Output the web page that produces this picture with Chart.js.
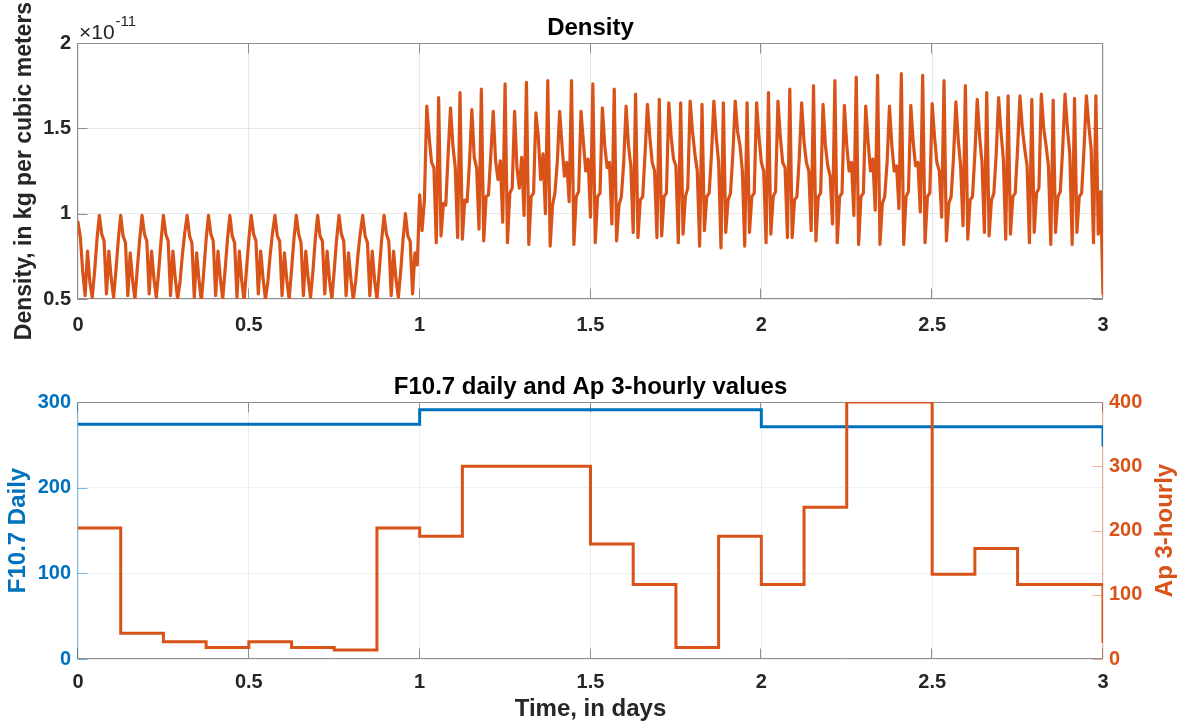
<!DOCTYPE html>
<html>
<head>
<meta charset="utf-8">
<script src="https://cdn.jsdelivr.net/npm/chart.js@4.4.1/dist/chart.umd.min.js"></script>
<style>
html,body{margin:0;padding:0;background:#fff;}
#wrap{position:relative;width:1181px;height:723px;overflow:hidden;background:#fff;}
.panel{position:absolute;left:0;width:1181px;}
canvas{display:block;}
</style>
</head>
<body>
<div id="wrap">
  <div class="panel" style="top:0;height:360px"><canvas id="densityChart" width="1181" height="360"></canvas></div>
  <div class="panel" style="top:360px;height:363px"><canvas id="driverChart" width="1181" height="363"></canvas></div>
</div>
<script>
// ---------------- DATA ----------------
// Density, in units of 1e-11 kg/m^3, sampled every 10 minutes (144 samples per day)
const DENSITY_EXPONENT = -11;
const SAMPLES_PER_DAY = 144;
const densityDay1 = [
0.95,0.86,0.66,0.52,0.78,0.60,0.51,0.66,0.85,
0.99,0.88,0.84,0.53,0.78,0.62,0.51,0.67,0.85,
0.99,0.87,0.83,0.52,0.77,0.61,0.50,0.68,0.85,
0.99,0.88,0.84,0.53,0.78,0.62,0.51,0.66,0.84,
0.99,0.88,0.84,0.52,0.78,0.62,0.50,0.60,0.76,0.89,
0.99,0.87,0.83,0.51,0.77,0.61,0.49,0.66,0.85,
0.99,0.88,0.84,0.52,0.78,0.62,0.50,0.67,0.85,
0.99,0.87,0.83,0.51,0.78,0.61,0.49,0.67,0.85,
0.99,0.88,0.84,0.53,0.78,0.62,0.50,0.60,0.76,0.89,
0.99,0.87,0.84,0.52,0.77,0.61,0.50,0.67,0.85,
0.99,0.88,0.83,0.52,0.78,0.62,0.51,0.66,0.85,
0.99,0.87,0.84,0.53,0.78,0.61,0.50,0.67,0.85,
0.99,0.88,0.84,0.52,0.77,0.62,0.50,0.60,0.76,0.89,
0.99,0.87,0.83,0.52,0.78,0.61,0.50,0.67,0.85,
0.99,0.88,0.84,0.52,0.78,0.62,0.51,0.66,0.85,
1.00,0.87,0.84,0.53,0.77,0.70
];
const densityDay2 = [
1.11,0.90,1.08,
1.63,1.45,1.30,1.27,0.83,
1.68,0.87,1.06,1.05,1.35,
1.62,1.40,1.27,0.86,
1.71,0.85,1.08,1.07,1.30,
1.61,1.33,1.27,0.91,
1.73,0.84,1.10,1.11,1.35,
1.60,1.31,1.20,1.31,0.95,
1.76,0.83,1.12,1.15,
1.60,1.27,1.15,1.33,0.99,
1.77,0.82,1.10,1.12,
1.59,1.45,1.20,1.35,1.00,
1.78,0.81,1.05,1.12,1.30,
1.60,1.40,1.22,1.30,1.07,
1.78,0.82,1.10,1.13,
1.60,1.42,1.25,1.32,0.98,
1.76,0.83,1.10,1.12,
1.62,1.40,1.27,1.30,0.94,
1.73,0.84,1.05,1.10,1.30,
1.63,1.40,1.28,0.89,
1.70,0.86,1.08,1.10,1.35,
1.64,1.45,1.30,1.25,0.86,
1.67,0.87,1.10,1.12,
1.65,1.45,1.32,1.28,0.83,
1.65,0.88,1.10,1.15,
1.66,1.48,1.35,1.25,0.81,
1.64,0.90,1.10,1.12,1.35,
1.66,1.45,1.30,0.80,
1.65,0.89,1.08,1.12,1.35,
1.66,1.48,1.40,1.25,0.81,
1.65,0.89,1.10,1.12,
1.65,1.45
];
const densityDay3 = [
1.30,1.25,0.83,
1.71,0.88,1.10,1.13,
1.66,1.45,1.30,1.27,0.86,
1.73,0.86,1.08,1.10,1.33,
1.65,1.42,1.30,1.25,0.90,
1.75,0.84,1.10,1.12,
1.64,1.40,1.28,1.22,0.94,
1.78,0.83,1.10,1.12,
1.635,1.40,1.25,1.30,0.99,
1.80,0.82,1.10,1.12,
1.63,1.42,1.25,1.32,1.02,
1.81,0.82,1.06,1.10,1.30,
1.63,1.40,1.25,1.28,1.03,
1.82,0.82,1.10,1.13,
1.635,1.42,1.28,1.30,1.01,
1.81,0.83,1.10,1.12,
1.645,1.45,1.30,1.25,0.98,
1.78,0.84,1.06,1.10,1.33,
1.655,1.43,1.28,0.93,
1.75,0.85,1.08,1.10,1.35,
1.67,1.45,1.30,0.89,
1.71,0.87,1.08,1.12,1.35,
1.68,1.48,1.32,0.85,
1.69,0.88,1.10,1.12,1.38,
1.69,1.50,1.38,1.28,0.83,
1.67,0.89,1.12,1.15,
1.70,1.50,1.40,1.28,0.82,
1.665,0.89,1.10,1.13,1.38,
1.70,1.50,1.35,0.82,
1.675,0.89,1.10,1.12,1.38,
1.69,1.52,1.38,0.83,
1.69,0.88,1.13,0.53
];

// F10.7 daily values (day start times) with the final sample at t = 3
const f107Days   = [0, 1, 2, 3];
const f107Values = [274, 291, 271, 248];

// Ap 3-hourly values, one per 0.125 day, plus the final sample at t = 3
const AP_STEP_DAYS = 0.125;
const apValues = [204, 40, 27, 18, 27, 18, 14, 204,
                  191, 300, 300, 300, 179, 116, 18, 191,
                  116, 236, 400, 400, 132, 172, 116, 116,
                  25];

const timeTicks    = [0, 0.5, 1, 1.5, 2, 2.5, 3];
const densityTicks = [0.5, 1, 1.5, 2];
const f107Ticks    = [0, 100, 200, 300];
const apTicks      = [0, 100, 200, 300, 400];

// ---------------- STYLE ----------------
const FONT = '"Liberation Sans", Arial, Helvetica, sans-serif';
const TXT = '#262626';
const BLUE = '#0072BD';
const ORANGE = '#D95319';
const AXIS_GRAY = '#8e8e8e';
const GRID_GRAY = 'rgba(38,38,38,0.10)';

function dayPoints(values, dayStart) {
  return values.map((v, j) => ({ x: dayStart + j / SAMPLES_PER_DAY, y: v }));
}
const densityPoints = [].concat(dayPoints(densityDay1, 0), dayPoints(densityDay2, 1), dayPoints(densityDay3, 2));
const f107Points = f107Values.map((v, k) => ({ x: f107Days[k], y: v }));
const apPoints = apValues.map((v, k) => ({ x: k * AP_STEP_DAYS, y: v }));

// frame: box + inward ticks (drawn from the chart's own scales)
const framePlugin = {
  id: 'frame',
  beforeDatasetsDraw(chart, args, o) {
    const ctx = chart.ctx, a = chart.chartArea;
    const L = Math.round(a.left) - 0.5, R = Math.round(a.right) - 0.5;
    const T = Math.round(a.top) + 0.5, B = Math.round(a.bottom) - 0.5;
    const TL = 10;
    ctx.save();
    ctx.lineWidth = 1;
    const line = (x1, y1, x2, y2, c) => { ctx.strokeStyle = c; ctx.beginPath(); ctx.moveTo(x1, y1); ctx.lineTo(x2, y2); ctx.stroke(); };
    const xs = chart.scales.x;
    xs.ticks.forEach(t => {
      const p = Math.round(xs.getPixelForValue(t.value)) - 0.5;
      line(p, B, p, B - TL, o.xColor);
      line(p, T, p, T + TL, o.xColor);
    });
    const ly = chart.scales[o.leftId];
    ly.ticks.forEach(t => {
      const p = Math.round(ly.getPixelForValue(t.value)) + 0.5;
      line(L, p, L + TL, p, o.leftColor);
      if (!o.rightId) line(R, p, R - TL, p, o.rightColor);
    });
    if (o.rightId) {
      const ry = chart.scales[o.rightId];
      ry.ticks.forEach(t => {
        const p = Math.round(ry.getPixelForValue(t.value)) + 0.5;
        line(R, p, R - TL, p, o.rightColor);
      });
    }
    line(L, T, R, T, o.xColor);
    line(L, B, R, B, o.xColor);
    line(L, T, L, B, o.leftColor);
    line(R, T, R, B, o.rightColor);
    ctx.restore();
  }
};

// text annotations: titles, axis labels, exponent
const textPlugin = {
  id: 'texts',
  afterDraw(chart, args, o) {
    const ctx = chart.ctx;
    o.items.forEach(it => {
      ctx.save();
      ctx.font = it.font;
      ctx.fillStyle = it.color;
      ctx.textAlign = it.align || 'center';
      ctx.textBaseline = 'alphabetic';
      ctx.translate(it.x, it.y);
      if (it.rotate) ctx.rotate(it.rotate * Math.PI / 180);
      ctx.fillText(it.text, 0, 0);
      if (it.sup) {
        const w = ctx.measureText(it.text).width;
        ctx.font = it.supFont;
        ctx.textAlign = 'left';
        ctx.fillText(it.sup, (it.align === 'left' ? w : 0) + 1, it.supDy);
      }
      ctx.restore();
    });
  }
};

const tickFont = { family: FONT, size: 20, weight: 'bold' };
const fmt = v => String(v);

// ---------------- TOP: DENSITY ----------------
new Chart(document.getElementById('densityChart'), {
  type: 'line',
  data: {
    datasets: [{
      data: densityPoints,
      borderColor: ORANGE,
      borderWidth: 3.2,
      borderJoinStyle: 'round',
      borderCapStyle: 'round',
      pointRadius: 0,
      tension: 0,
      fill: false
    }]
  },
  plugins: [framePlugin, textPlugin],
  options: {
    responsive: false,
    animation: false,
    devicePixelRatio: 1,
    events: [],
    layout: { padding: { left: 0, right: 78, top: 43, bottom: 0 } },
    plugins: {
      legend: { display: false },
      tooltip: { enabled: false },
      frame: { xColor: AXIS_GRAY, leftColor: AXIS_GRAY, rightColor: AXIS_GRAY, leftId: 'y' },
      texts: {
        items: [
          { text: 'Density', x: 590.5, y: 35, font: 'bold 24px ' + FONT, color: '#000' },
          { text: '\u00d710', x: 79, y: 39, font: '21px ' + FONT, color: TXT, align: 'left',
            sup: '-11', supFont: '15px ' + FONT, supDy: -13 },
          { text: 'Density, in kg per cubic meters', x: 31, y: 171, rotate: -90, font: 'bold 23px ' + FONT, color: TXT }
        ]
      }
    },
    scales: {
      x: {
        type: 'linear', min: timeTicks[0], max: timeTicks[timeTicks.length - 1],
        afterBuildTicks: s => { s.ticks = timeTicks.map(v => ({ value: v })); },
        ticks: { padding: 14, color: TXT, font: tickFont, maxRotation: 0, autoSkip: false, callback: fmt },
        grid: { color: GRID_GRAY, drawTicks: false, lineWidth: 1 },
        border: { display: false },
        afterFit: s => { s.height = 61; }
      },
      y: {
        type: 'linear', min: densityTicks[0], max: densityTicks[densityTicks.length - 1],
        afterBuildTicks: s => { s.ticks = densityTicks.map(v => ({ value: v })); },
        ticks: { padding: 7, color: TXT, font: tickFont, callback: fmt },
        grid: { color: GRID_GRAY, drawTicks: false, lineWidth: 1 },
        border: { display: false },
        afterFit: s => { s.width = 78; }
      }
    }
  }
});

// ---------------- BOTTOM: F10.7 and Ap ----------------
new Chart(document.getElementById('driverChart'), {
  type: 'line',
  data: {
    datasets: [
      { label: 'Ap 3-hourly', data: apPoints, yAxisID: 'y1', stepped: 'before', order: 0,
        borderColor: ORANGE, borderWidth: 3, pointRadius: 0, fill: false },
      { label: 'F10.7 Daily', data: f107Points, yAxisID: 'y', stepped: 'before', order: 1,
        borderColor: BLUE, borderWidth: 3, pointRadius: 0, fill: false }
    ]
  },
  plugins: [framePlugin, textPlugin],
  options: {
    responsive: false,
    animation: false,
    devicePixelRatio: 1,
    events: [],
    layout: { padding: { left: 0, right: 0, top: 42, bottom: 0 } },
    plugins: {
      legend: { display: false },
      tooltip: { enabled: false },
      frame: { xColor: AXIS_GRAY, leftColor: 'rgba(0,114,189,0.5)', rightColor: 'rgba(217,83,25,0.45)', leftId: 'y', rightId: 'y1' },
      texts: {
        items: [
          { text: 'F10.7 daily and Ap 3-hourly values', x: 590.5, y: 34, font: 'bold 24px ' + FONT, color: '#000' },
          { text: 'Time, in days', x: 590.5, y: 356, font: 'bold 24px ' + FONT, color: TXT },
          { text: 'F10.7 Daily', x: 25, y: 170.5, rotate: -90, font: 'bold 24px ' + FONT, color: BLUE },
          { text: 'Ap 3-hourly', x: 1172, y: 170.5, rotate: -90, font: 'bold 24px ' + FONT, color: ORANGE }
        ]
      }
    },
    scales: {
      x: {
        type: 'linear', min: timeTicks[0], max: timeTicks[timeTicks.length - 1],
        afterBuildTicks: s => { s.ticks = timeTicks.map(v => ({ value: v })); },
        ticks: { padding: 11, color: TXT, font: tickFont, maxRotation: 0, autoSkip: false, callback: fmt },
        grid: { color: 'rgba(60,90,120,0.10)', drawTicks: false, lineWidth: 1 },
        border: { display: false },
        afterFit: s => { s.height = 64; }
      },
      y: {
        type: 'linear', position: 'left', min: f107Ticks[0], max: f107Ticks[f107Ticks.length - 1],
        afterBuildTicks: s => { s.ticks = f107Ticks.map(v => ({ value: v })); },
        ticks: { padding: 7, color: BLUE, font: tickFont, callback: fmt },
        grid: { color: 'rgba(0,114,189,0.09)', drawTicks: false, lineWidth: 1 },
        border: { display: false },
        afterFit: s => { s.width = 78; }
      },
      y1: {
        type: 'linear', position: 'right', min: apTicks[0], max: apTicks[apTicks.length - 1],
        afterBuildTicks: s => { s.ticks = apTicks.map(v => ({ value: v })); },
        ticks: { padding: 6, color: ORANGE, font: tickFont, callback: fmt },
        grid: { display: false, drawOnChartArea: false, drawTicks: false },
        border: { display: false },
        afterFit: s => { s.width = 78; }
      }
    }
  }
});
</script>
</body>
</html>
